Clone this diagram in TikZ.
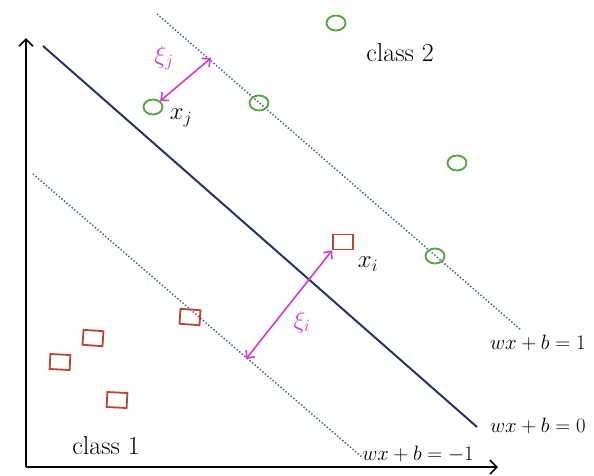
\documentclass[tikz,border=0pt]{standalone}
\usetikzlibrary{arrows.meta,shapes.geometric}
\definecolor{navy}{RGB}{38,52,110}
\definecolor{dotblue}{RGB}{60,100,145}
\definecolor{cgreen}{RGB}{80,165,60}
\definecolor{cred}{RGB}{185,70,50}
\definecolor{cmag}{RGB}{210,60,200}
\tikzset{
  axis/.style={line width=2pt,black,-{Straight Barb[length=7pt,width=14pt,line width=1.6pt]}},
  hyper/.style={line width=2pt,navy},
  margin/.style={line width=1.5pt,dotblue,dash pattern=on 1.4pt off 2pt},
  ptc/.style={ellipse,draw=cgreen,line width=1.8pt,minimum width=19pt,minimum height=15pt,inner sep=0pt},
  pts/.style={rectangle,draw=cred,line width=1.8pt,minimum width=20pt,minimum height=15pt,inner sep=0pt},
  slack/.style={line width=1.6pt,cmag,{Straight Barb[length=6pt,width=11pt]}-{Straight Barb[length=6pt,width=11pt]}},
  lbl/.style={font=\fontsize{26}{30}\selectfont,inner sep=0pt},
  eqlbl/.style={font=\fontsize{22}{26}\selectfont,inner sep=0pt},
  eqlbls/.style={font=\fontsize{21}{25}\selectfont,inner sep=0pt},
  maglbl/.style={font=\fontsize{24}{28}\selectfont,text=cmag,inner sep=0pt}
}
\begin{document}
\begin{tikzpicture}[x=1pt,y=-1pt]
\useasboundingbox (0,0) rectangle (594,475);
\fill[white] (0,0) rectangle (594,475);
% axes
\coordinate (O) at (26,467);
\coordinate (ytip) at (26,38);
\coordinate (xtip) at (498,467);
\draw[axis] (O) -- (ytip);
\draw[axis] (O) -- (xtip);
% hyperplanes
\coordinate (h0a) at (43,46);
\coordinate (h0b) at (477,427);
\coordinate (h1a) at (157,14);
\coordinate (h1b) at (521,330);
\coordinate (h2a) at (33,174);
\coordinate (h2b) at (363,458);
\draw[hyper] (h0a) -- (h0b);
\draw[margin] (h1a) -- (h1b);
\draw[margin] (h2a) -- (h2b);
% class 2 points
\node[ptc] (c1) at (336,23) {};
\node[ptc] (c2) at (259,103) {};
\node[ptc] (xj) at (153,107) {};
\node[ptc] (c4) at (457,163) {};
\node[ptc] (c5) at (435,256) {};
% class 1 points
\node[pts] (xi) at (343,242) {};
\node[pts,rotate=-4] (s2) at (190,317) {};
\node[pts,rotate=-4] (s3) at (93,338) {};
\node[pts,rotate=-3] (s4) at (60,362) {};
\node[pts,rotate=-3] (s5) at (117,400) {};
% slack arrows
\coordinate (pj) at (211,58);
\coordinate (pi) at (246,359);
\draw[slack] (xj) -- (pj);
\draw[slack] (xi.south west) -- (pi);
% labels
\node[lbl] (lc2) at (400,53) {class 2};
\node[lbl] (lc1) at (106,446) {class 1};
\node[lbl] (lxj) at (181,118) {$x_j$};
\node[lbl] (lxi) at (368,264) {$x_i$};
\node[maglbl] (lsj) at (164,58) {$\xi_j$};
\node[maglbl] (lsi) at (302,322) {$\xi_i$};
\node[eqlbl,anchor=west] (l1) at (490,343) {$wx+b=1$};
\node[eqlbl,anchor=west] (l0) at (490,426) {$wx+b=0$};
\node[eqlbls] (lm1) at (418,454) {$wx+b=-1$};
\end{tikzpicture}
\end{document}
